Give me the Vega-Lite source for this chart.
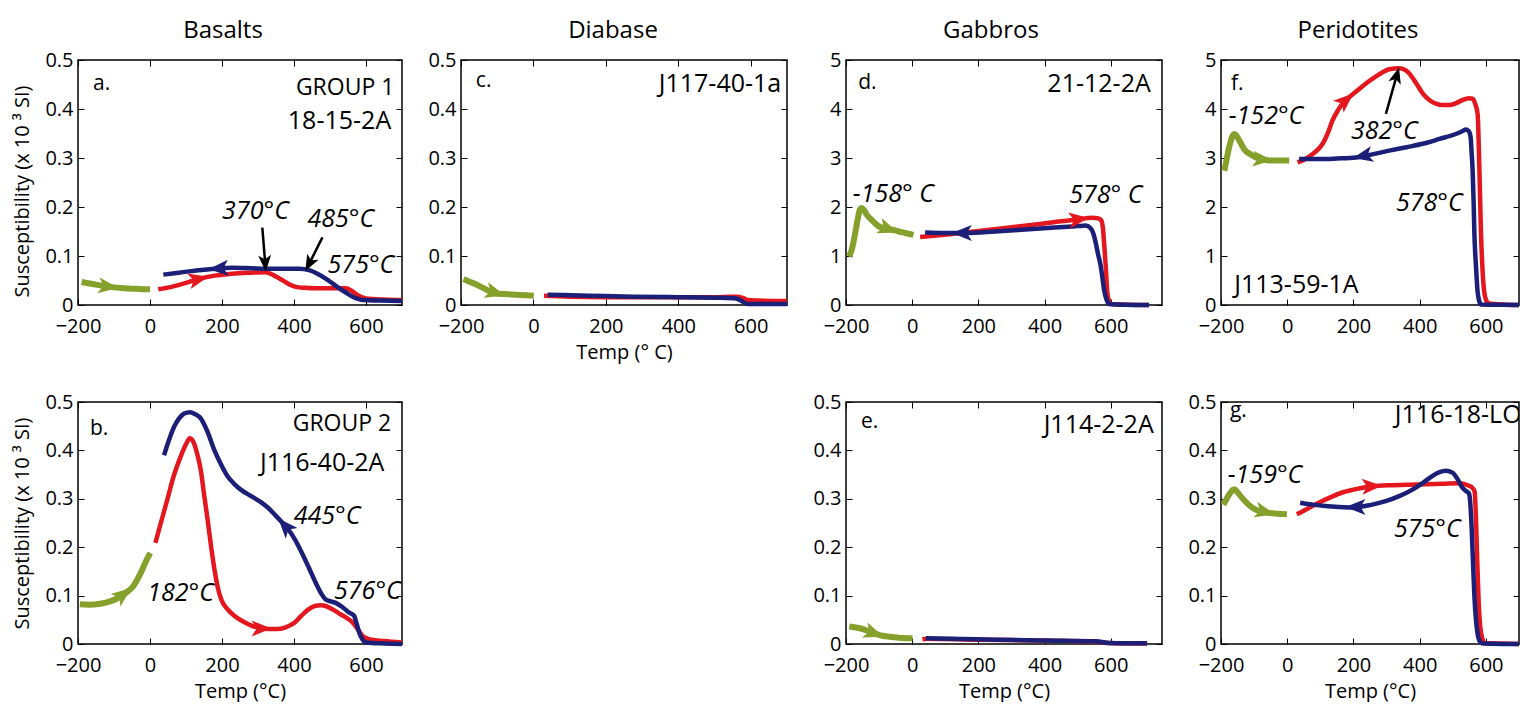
{
"$schema": "https://vega.github.io/schema/vega-lite/v6.json",
"padding": {"left": 12, "top": 18, "right": 0, "bottom": 0},
"config": {
 "view": {"stroke": "black", "strokeWidth": 1.5},
 "axis": {"domain": false, "grid": false, "tickSize": -6, "tickColor": "black", "tickWidth": 1, "labelColor": "black", "labelFont": "Open Sans", "labelFontSize": 20, "labelFlush": false, "labelOverlap": false, "titleFont": "Open Sans", "titleFontSize": 20, "titleFontWeight": "normal", "titleColor": "black"},
 "axisX": {"labelPadding": 17, "titlePadding": 6},
 "axisY": {"labelPadding": 11, "titlePadding": 12},
 "title": {"font": "Open Sans", "fontSize": 24, "fontWeight": "normal", "color": "black", "offset": 7, "baseline": "alphabetic", "frame": "group", "anchor": "middle"},
 "text": {"font": "Open Sans", "color": "black"}
},
"datasets": {"d": [
{"p":"a","g":"low","t":-190,"v":0.047},{"p":"a","g":"low","t":-160,"v":0.043},{"p":"a","g":"low","t":-130,"v":0.039},{"p":"a","g":"low","t":-100,"v":0.036},{"p":"a","g":"low","t":-70,"v":0.034},{"p":"a","g":"low","t":-40,"v":0.033},{"p":"a","g":"low","t":-10,"v":0.032},{"p":"a","g":"low","t":0,"v":0.032},
{"p":"a","g":"heat","t":23,"v":0.032},{"p":"a","g":"heat","t":60,"v":0.037},{"p":"a","g":"heat","t":100,"v":0.045},{"p":"a","g":"heat","t":135,"v":0.053},{"p":"a","g":"heat","t":180,"v":0.060},{"p":"a","g":"heat","t":228,"v":0.064},{"p":"a","g":"heat","t":280,"v":0.066},{"p":"a","g":"heat","t":320,"v":0.067},{"p":"a","g":"heat","t":345,"v":0.060},{"p":"a","g":"heat","t":367,"v":0.051},{"p":"a","g":"heat","t":385,"v":0.043},{"p":"a","g":"heat","t":405,"v":0.037},{"p":"a","g":"heat","t":430,"v":0.035},{"p":"a","g":"heat","t":460,"v":0.034},{"p":"a","g":"heat","t":500,"v":0.034},{"p":"a","g":"heat","t":544,"v":0.034},{"p":"a","g":"heat","t":560,"v":0.029},{"p":"a","g":"heat","t":577,"v":0.020},{"p":"a","g":"heat","t":600,"v":0.0135},{"p":"a","g":"heat","t":650,"v":0.011},{"p":"a","g":"heat","t":700,"v":0.010},
{"p":"a","g":"cool","t":37,"v":0.062},{"p":"a","g":"cool","t":80,"v":0.066},{"p":"a","g":"cool","t":135,"v":0.071},{"p":"a","g":"cool","t":180,"v":0.074},{"p":"a","g":"cool","t":228,"v":0.076},{"p":"a","g":"cool","t":280,"v":0.075},{"p":"a","g":"cool","t":321,"v":0.074},{"p":"a","g":"cool","t":370,"v":0.074},{"p":"a","g":"cool","t":414,"v":0.074},{"p":"a","g":"cool","t":442,"v":0.071},{"p":"a","g":"cool","t":465,"v":0.064},{"p":"a","g":"cool","t":488,"v":0.054},{"p":"a","g":"cool","t":507,"v":0.044},{"p":"a","g":"cool","t":526,"v":0.034},{"p":"a","g":"cool","t":545,"v":0.025},{"p":"a","g":"cool","t":563,"v":0.017},{"p":"a","g":"cool","t":580,"v":0.012},{"p":"a","g":"cool","t":591,"v":0.010},{"p":"a","g":"cool","t":640,"v":0.009},{"p":"a","g":"cool","t":700,"v":0.008},
{"p":"a","g":"tip","s":"low","t":-116,"v":0.0375,"h":8},{"p":"a","g":"tip","s":"heat","t":135,"v":0.053,"h":-13},{"p":"a","g":"tip","s":"cool","t":190,"v":0.0745,"h":176},
{"p":"a","g":"ann","t":312,"v":0.158,"t2":320,"v2":0.085},{"p":"a","g":"ann","t":479,"v":0.138,"t2":442,"v2":0.084},
{"p":"a","g":"head","t":320,"v":0.085,"h":86},{"p":"a","g":"head","t":442,"v":0.084,"h":118},
{"p":"a","g":"L","k":"letter","txt":"a.","t":-158,"v":0.451},{"p":"a","g":"R","k":"group","txt":"GROUP 1","t":679,"v":0.443},{"p":"a","g":"R","k":"id","txt":"18-15-2A","t":670,"v":0.376},
{"p":"a","g":"T","txt":"370°C","t":293,"v":0.191},{"p":"a","g":"T","txt":"485°C","t":530,"v":0.176},{"p":"a","g":"T","txt":"575°C","t":586,"v":0.081},

{"p":"b","g":"low","t":-195,"v":0.082},{"p":"b","g":"low","t":-170,"v":0.081},{"p":"b","g":"low","t":-139,"v":0.083},{"p":"b","g":"low","t":-115,"v":0.087},{"p":"b","g":"low","t":-92,"v":0.094},{"p":"b","g":"low","t":-70,"v":0.104},{"p":"b","g":"low","t":-46,"v":0.12},{"p":"b","g":"low","t":-25,"v":0.148},{"p":"b","g":"low","t":-8,"v":0.176},{"p":"b","g":"low","t":1,"v":0.188},
{"p":"b","g":"heat","t":15,"v":0.209},{"p":"b","g":"heat","t":30,"v":0.25},{"p":"b","g":"heat","t":48,"v":0.298},{"p":"b","g":"heat","t":65,"v":0.345},{"p":"b","g":"heat","t":85,"v":0.387},{"p":"b","g":"heat","t":100,"v":0.413},{"p":"b","g":"heat","t":111,"v":0.425},{"p":"b","g":"heat","t":122,"v":0.415},{"p":"b","g":"heat","t":132,"v":0.39},{"p":"b","g":"heat","t":141,"v":0.36},{"p":"b","g":"heat","t":150,"v":0.31},{"p":"b","g":"heat","t":160,"v":0.257},{"p":"b","g":"heat","t":170,"v":0.2},{"p":"b","g":"heat","t":179,"v":0.154},{"p":"b","g":"heat","t":188,"v":0.118},{"p":"b","g":"heat","t":198,"v":0.092},{"p":"b","g":"heat","t":215,"v":0.072},{"p":"b","g":"heat","t":235,"v":0.058},{"p":"b","g":"heat","t":260,"v":0.046},{"p":"b","g":"heat","t":282,"v":0.038},{"p":"b","g":"heat","t":305,"v":0.033},{"p":"b","g":"heat","t":328,"v":0.031},{"p":"b","g":"heat","t":352,"v":0.031},{"p":"b","g":"heat","t":375,"v":0.034},{"p":"b","g":"heat","t":390,"v":0.039},{"p":"b","g":"heat","t":403,"v":0.045},{"p":"b","g":"heat","t":420,"v":0.058},{"p":"b","g":"heat","t":441,"v":0.072},{"p":"b","g":"heat","t":460,"v":0.079},{"p":"b","g":"heat","t":474,"v":0.080},{"p":"b","g":"heat","t":490,"v":0.078},{"p":"b","g":"heat","t":506,"v":0.072},{"p":"b","g":"heat","t":530,"v":0.061},{"p":"b","g":"heat","t":548,"v":0.053},{"p":"b","g":"heat","t":562,"v":0.045},{"p":"b","g":"heat","t":575,"v":0.033},{"p":"b","g":"heat","t":590,"v":0.017},{"p":"b","g":"heat","t":609,"v":0.010},{"p":"b","g":"heat","t":650,"v":0.006},{"p":"b","g":"heat","t":700,"v":0.003},
{"p":"b","g":"cool","t":39,"v":0.39},{"p":"b","g":"cool","t":52,"v":0.42},{"p":"b","g":"cool","t":67,"v":0.449},{"p":"b","g":"cool","t":80,"v":0.465},{"p":"b","g":"cool","t":95,"v":0.476},{"p":"b","g":"cool","t":111,"v":0.479},{"p":"b","g":"cool","t":125,"v":0.475},{"p":"b","g":"cool","t":141,"v":0.466},{"p":"b","g":"cool","t":160,"v":0.438},{"p":"b","g":"cool","t":179,"v":0.40},{"p":"b","g":"cool","t":198,"v":0.37},{"p":"b","g":"cool","t":216,"v":0.346},{"p":"b","g":"cool","t":235,"v":0.33},{"p":"b","g":"cool","t":254,"v":0.318},{"p":"b","g":"cool","t":282,"v":0.305},{"p":"b","g":"cool","t":310,"v":0.292},{"p":"b","g":"cool","t":330,"v":0.28},{"p":"b","g":"cool","t":347,"v":0.267},{"p":"b","g":"cool","t":366,"v":0.252},{"p":"b","g":"cool","t":385,"v":0.236},{"p":"b","g":"cool","t":404,"v":0.214},{"p":"b","g":"cool","t":422,"v":0.188},{"p":"b","g":"cool","t":441,"v":0.158},{"p":"b","g":"cool","t":460,"v":0.127},{"p":"b","g":"cool","t":475,"v":0.105},{"p":"b","g":"cool","t":488,"v":0.092},{"p":"b","g":"cool","t":502,"v":0.088},{"p":"b","g":"cool","t":516,"v":0.085},{"p":"b","g":"cool","t":535,"v":0.076},{"p":"b","g":"cool","t":553,"v":0.065},{"p":"b","g":"cool","t":567,"v":0.058},{"p":"b","g":"cool","t":574,"v":0.042},{"p":"b","g":"cool","t":581,"v":0.024},{"p":"b","g":"cool","t":590,"v":0.01},{"p":"b","g":"cool","t":600,"v":0.003},{"p":"b","g":"cool","t":650,"v":0.001},{"p":"b","g":"cool","t":700,"v":0},
{"p":"b","g":"tip","s":"low","t":-74,"v":0.103,"h":-38},{"p":"b","g":"tip","s":"heat","t":310,"v":0.032,"h":0},{"p":"b","g":"tip","s":"cool","t":375,"v":0.244,"h":-132},
{"p":"b","g":"L","k":"letter","txt":"b.","t":-167,"v":0.445},{"p":"b","g":"R","k":"group","txt":"GROUP 2","t":670,"v":0.455},{"p":"b","g":"R","k":"id","txt":"J116-40-2A","t":651,"v":0.373},
{"p":"b","g":"T","txt":"445°C","t":492,"v":0.264},{"p":"b","g":"T","txt":"182°C","t":85,"v":0.106},{"p":"b","g":"T","txt":"576°C","t":604,"v":0.110},

{"p":"c","g":"low","t":-193,"v":0.053},{"p":"c","g":"low","t":-178,"v":0.048},{"p":"c","g":"low","t":-161,"v":0.043},{"p":"c","g":"low","t":-142,"v":0.036},{"p":"c","g":"low","t":-124,"v":0.029},{"p":"c","g":"low","t":-110,"v":0.025},{"p":"c","g":"low","t":-96,"v":0.023},{"p":"c","g":"low","t":-70,"v":0.022},{"p":"c","g":"low","t":-50,"v":0.021},{"p":"c","g":"low","t":-25,"v":0.02},{"p":"c","g":"low","t":1,"v":0.019},
{"p":"c","g":"heat","t":29,"v":0.019},{"p":"c","g":"heat","t":100,"v":0.017},{"p":"c","g":"heat","t":200,"v":0.016},{"p":"c","g":"heat","t":300,"v":0.016},{"p":"c","g":"heat","t":400,"v":0.016},{"p":"c","g":"heat","t":500,"v":0.016},{"p":"c","g":"heat","t":545,"v":0.017},{"p":"c","g":"heat","t":565,"v":0.017},{"p":"c","g":"heat","t":580,"v":0.014},{"p":"c","g":"heat","t":591,"v":0.01},{"p":"c","g":"heat","t":620,"v":0.009},{"p":"c","g":"heat","t":700,"v":0.008},
{"p":"c","g":"cool","t":39,"v":0.021},{"p":"c","g":"cool","t":150,"v":0.019},{"p":"c","g":"cool","t":275,"v":0.017},{"p":"c","g":"cool","t":400,"v":0.016},{"p":"c","g":"cool","t":500,"v":0.015},{"p":"c","g":"cool","t":554,"v":0.014},{"p":"c","g":"cool","t":565,"v":0.012},{"p":"c","g":"cool","t":575,"v":0.008},{"p":"c","g":"cool","t":591,"v":0.002},{"p":"c","g":"cool","t":620,"v":0.002},{"p":"c","g":"cool","t":700,"v":0.002},
{"p":"c","g":"tip","s":"low","t":-105,"v":0.025,"h":16},
{"p":"c","g":"L","k":"letter","txt":"c.","t":-159,"v":0.458},{"p":"c","g":"R","k":"id","txt":"J117-40-1a","t":684,"v":0.451},

{"p":"d","g":"low","t":-191,"v":0.99},{"p":"d","g":"low","t":-184,"v":1.1},{"p":"d","g":"low","t":-178,"v":1.26},{"p":"d","g":"low","t":-170,"v":1.55},{"p":"d","g":"low","t":-163,"v":1.81},{"p":"d","g":"low","t":-158,"v":1.95},{"p":"d","g":"low","t":-153,"v":1.98},{"p":"d","g":"low","t":-145,"v":1.93},{"p":"d","g":"low","t":-137,"v":1.84},{"p":"d","g":"low","t":-120,"v":1.72},{"p":"d","g":"low","t":-102,"v":1.61},{"p":"d","g":"low","t":-80,"v":1.56},{"p":"d","g":"low","t":-62,"v":1.54},{"p":"d","g":"low","t":-40,"v":1.5},{"p":"d","g":"low","t":-21,"v":1.47},{"p":"d","g":"low","t":4,"v":1.43},
{"p":"d","g":"heat","t":24,"v":1.39},{"p":"d","g":"heat","t":90,"v":1.43},{"p":"d","g":"heat","t":160,"v":1.48},{"p":"d","g":"heat","t":241,"v":1.54},{"p":"d","g":"heat","t":320,"v":1.60},{"p":"d","g":"heat","t":393,"v":1.66},{"p":"d","g":"heat","t":450,"v":1.71},{"p":"d","g":"heat","t":494,"v":1.74},{"p":"d","g":"heat","t":544,"v":1.78},{"p":"d","g":"heat","t":560,"v":1.77},{"p":"d","g":"heat","t":570,"v":1.74},{"p":"d","g":"heat","t":576,"v":1.6},{"p":"d","g":"heat","t":580,"v":1.26},{"p":"d","g":"heat","t":585,"v":0.79},{"p":"d","g":"heat","t":590,"v":0.24},{"p":"d","g":"heat","t":595,"v":0.08},{"p":"d","g":"heat","t":600,"v":0.02},{"p":"d","g":"heat","t":640,"v":0.01},{"p":"d","g":"heat","t":716,"v":0},
{"p":"d","g":"cool","t":39,"v":1.48},{"p":"d","g":"cool","t":100,"v":1.47},{"p":"d","g":"cool","t":161,"v":1.47},{"p":"d","g":"cool","t":250,"v":1.5},{"p":"d","g":"cool","t":342,"v":1.54},{"p":"d","g":"cool","t":430,"v":1.58},{"p":"d","g":"cool","t":500,"v":1.61},{"p":"d","g":"cool","t":524,"v":1.62},{"p":"d","g":"cool","t":539,"v":1.57},{"p":"d","g":"cool","t":548,"v":1.45},{"p":"d","g":"cool","t":555,"v":1.26},{"p":"d","g":"cool","t":562,"v":1.03},{"p":"d","g":"cool","t":570,"v":0.79},{"p":"d","g":"cool","t":575,"v":0.55},{"p":"d","g":"cool","t":580,"v":0.31},{"p":"d","g":"cool","t":588,"v":0.1},{"p":"d","g":"cool","t":595,"v":0.02},{"p":"d","g":"cool","t":640,"v":0.005},{"p":"d","g":"cool","t":716,"v":0},
{"p":"d","g":"tip","s":"low","t":-72,"v":1.55,"h":20},{"p":"d","g":"tip","s":"heat","t":504,"v":1.75,"h":-7},{"p":"d","g":"tip","s":"cool","t":150,"v":1.47,"h":180},
{"p":"d","g":"L","k":"letter","txt":"d.","t":-163,"v":4.54},{"p":"d","g":"R","k":"id","txt":"21-12-2A","t":721,"v":4.51},
{"p":"d","g":"T","txt":"-158° C","t":-57,"v":2.27},{"p":"d","g":"T","txt":"578° C","t":585,"v":2.25},

{"p":"e","g":"low","t":-190,"v":0.036},{"p":"e","g":"low","t":-170,"v":0.034},{"p":"e","g":"low","t":-150,"v":0.031},{"p":"e","g":"low","t":-130,"v":0.026},{"p":"e","g":"low","t":-110,"v":0.021},{"p":"e","g":"low","t":-90,"v":0.017},{"p":"e","g":"low","t":-69,"v":0.015},{"p":"e","g":"low","t":-40,"v":0.013},{"p":"e","g":"low","t":1,"v":0.012},
{"p":"e","g":"heat","t":31,"v":0.010},{"p":"e","g":"heat","t":45,"v":0.011},{"p":"e","g":"heat","t":200,"v":0.009},{"p":"e","g":"heat","t":400,"v":0.007},{"p":"e","g":"heat","t":554,"v":0.005},{"p":"e","g":"heat","t":594,"v":0.002},{"p":"e","g":"heat","t":710,"v":0.001},
{"p":"e","g":"cool","t":41,"v":0.012},{"p":"e","g":"cool","t":150,"v":0.0105},{"p":"e","g":"cool","t":252,"v":0.009},{"p":"e","g":"cool","t":400,"v":0.0072},{"p":"e","g":"cool","t":554,"v":0.0055},{"p":"e","g":"cool","t":575,"v":0.004},{"p":"e","g":"cool","t":594,"v":0.002},{"p":"e","g":"cool","t":650,"v":0.0015},{"p":"e","g":"cool","t":710,"v":0.0014},
{"p":"e","g":"tip","s":"low","t":-115,"v":0.022,"h":20},
{"p":"e","g":"L","k":"letter","txt":"e.","t":-155,"v":0.459},{"p":"e","g":"R","k":"id","txt":"J114-2-2A","t":730,"v":0.452},

{"p":"f","g":"low","t":-190,"v":2.74},{"p":"f","g":"low","t":-185,"v":2.9},{"p":"f","g":"low","t":-180,"v":3.08},{"p":"f","g":"low","t":-175,"v":3.23},{"p":"f","g":"low","t":-170,"v":3.36},{"p":"f","g":"low","t":-165,"v":3.45},{"p":"f","g":"low","t":-160,"v":3.49},{"p":"f","g":"low","t":-155,"v":3.47},{"p":"f","g":"low","t":-150,"v":3.42},{"p":"f","g":"low","t":-140,"v":3.3},{"p":"f","g":"low","t":-130,"v":3.18},{"p":"f","g":"low","t":-112,"v":3.08},{"p":"f","g":"low","t":-94,"v":3.01},{"p":"f","g":"low","t":-74,"v":2.97},{"p":"f","g":"low","t":-54,"v":2.95},{"p":"f","g":"low","t":-25,"v":2.95},{"p":"f","g":"low","t":6,"v":2.95},
{"p":"f","g":"heat","t":31,"v":2.91},{"p":"f","g":"heat","t":55,"v":2.98},{"p":"f","g":"heat","t":77,"v":3.08},{"p":"f","g":"heat","t":92,"v":3.17},{"p":"f","g":"heat","t":107,"v":3.29},{"p":"f","g":"heat","t":122,"v":3.5},{"p":"f","g":"heat","t":137,"v":3.77},{"p":"f","g":"heat","t":152,"v":3.96},{"p":"f","g":"heat","t":167,"v":4.11},{"p":"f","g":"heat","t":187,"v":4.24},{"p":"f","g":"heat","t":207,"v":4.35},{"p":"f","g":"heat","t":232,"v":4.49},{"p":"f","g":"heat","t":258,"v":4.62},{"p":"f","g":"heat","t":283,"v":4.73},{"p":"f","g":"heat","t":308,"v":4.81},{"p":"f","g":"heat","t":338,"v":4.83},{"p":"f","g":"heat","t":355,"v":4.8},{"p":"f","g":"heat","t":368,"v":4.73},{"p":"f","g":"heat","t":390,"v":4.52},{"p":"f","g":"heat","t":409,"v":4.32},{"p":"f","g":"heat","t":430,"v":4.18},{"p":"f","g":"heat","t":449,"v":4.11},{"p":"f","g":"heat","t":470,"v":4.08},{"p":"f","g":"heat","t":489,"v":4.08},{"p":"f","g":"heat","t":510,"v":4.12},{"p":"f","g":"heat","t":529,"v":4.18},{"p":"f","g":"heat","t":548,"v":4.22},{"p":"f","g":"heat","t":560,"v":4.21},{"p":"f","g":"heat","t":568,"v":4.1},{"p":"f","g":"heat","t":575,"v":3.9},{"p":"f","g":"heat","t":580,"v":2.88},{"p":"f","g":"heat","t":585,"v":1.51},{"p":"f","g":"heat","t":590,"v":0.7},{"p":"f","g":"heat","t":595,"v":0.27},{"p":"f","g":"heat","t":602,"v":0.08},{"p":"f","g":"heat","t":610,"v":0.03},{"p":"f","g":"heat","t":650,"v":0.01},{"p":"f","g":"heat","t":700,"v":0},
{"p":"f","g":"cool","t":36,"v":2.98},{"p":"f","g":"cool","t":70,"v":2.98},{"p":"f","g":"cool","t":107,"v":2.98},{"p":"f","g":"cool","t":150,"v":2.99},{"p":"f","g":"cool","t":207,"v":3.01},{"p":"f","g":"cool","t":260,"v":3.08},{"p":"f","g":"cool","t":308,"v":3.15},{"p":"f","g":"cool","t":360,"v":3.22},{"p":"f","g":"cool","t":409,"v":3.29},{"p":"f","g":"cool","t":460,"v":3.39},{"p":"f","g":"cool","t":509,"v":3.49},{"p":"f","g":"cool","t":530,"v":3.55},{"p":"f","g":"cool","t":539,"v":3.58},{"p":"f","g":"cool","t":548,"v":3.55},{"p":"f","g":"cool","t":554,"v":3.42},{"p":"f","g":"cool","t":557,"v":3.1},{"p":"f","g":"cool","t":560,"v":2.74},{"p":"f","g":"cool","t":563,"v":2.1},{"p":"f","g":"cool","t":565,"v":1.51},{"p":"f","g":"cool","t":570,"v":0.8},{"p":"f","g":"cool","t":575,"v":0.27},{"p":"f","g":"cool","t":580,"v":0.08},{"p":"f","g":"cool","t":585,"v":0.01},{"p":"f","g":"cool","t":640,"v":0.005},{"p":"f","g":"cool","t":700,"v":0},
{"p":"f","g":"tip","s":"low","t":-74,"v":2.97,"h":5},{"p":"f","g":"tip","s":"heat","t":177,"v":4.18,"h":-41},{"p":"f","g":"tip","s":"cool","t":228,"v":3.04,"h":168},
{"p":"f","g":"ann","t":298,"v":3.90,"t2":331,"v2":4.69},{"p":"f","g":"head","t":331,"v":4.69,"h":-74},
{"p":"f","g":"L","k":"letter","txt":"f.","t":-170,"v":4.51},{"p":"f","g":"L","k":"id","txt":"J113-59-1A","t":-160,"v":0.41},
{"p":"f","g":"T","txt":"-152°C","t":-64,"v":3.85},{"p":"f","g":"T","txt":"382°C","t":293,"v":3.56},{"p":"f","g":"T","txt":"578°C","t":429,"v":2.09},

{"p":"g","g":"low","t":-193,"v":0.288},{"p":"g","g":"low","t":-186,"v":0.296},{"p":"g","g":"low","t":-178,"v":0.306},{"p":"g","g":"low","t":-170,"v":0.314},{"p":"g","g":"low","t":-163,"v":0.319},{"p":"g","g":"low","t":-158,"v":0.319},{"p":"g","g":"low","t":-153,"v":0.316},{"p":"g","g":"low","t":-140,"v":0.305},{"p":"g","g":"low","t":-127,"v":0.295},{"p":"g","g":"low","t":-112,"v":0.285},{"p":"g","g":"low","t":-97,"v":0.278},{"p":"g","g":"low","t":-77,"v":0.274},{"p":"g","g":"low","t":-57,"v":0.271},{"p":"g","g":"low","t":-30,"v":0.269},{"p":"g","g":"low","t":-1,"v":0.268},
{"p":"g","g":"heat","t":29,"v":0.268},{"p":"g","g":"heat","t":60,"v":0.279},{"p":"g","g":"heat","t":95,"v":0.292},{"p":"g","g":"heat","t":130,"v":0.303},{"p":"g","g":"heat","t":166,"v":0.313},{"p":"g","g":"heat","t":200,"v":0.319},{"p":"g","g":"heat","t":236,"v":0.324},{"p":"g","g":"heat","t":275,"v":0.327},{"p":"g","g":"heat","t":317,"v":0.328},{"p":"g","g":"heat","t":370,"v":0.329},{"p":"g","g":"heat","t":418,"v":0.33},{"p":"g","g":"heat","t":470,"v":0.331},{"p":"g","g":"heat","t":519,"v":0.332},{"p":"g","g":"heat","t":545,"v":0.328},{"p":"g","g":"heat","t":560,"v":0.322},{"p":"g","g":"heat","t":566,"v":0.315},{"p":"g","g":"heat","t":570,"v":0.26},{"p":"g","g":"heat","t":574,"v":0.17},{"p":"g","g":"heat","t":578,"v":0.09},{"p":"g","g":"heat","t":583,"v":0.035},{"p":"g","g":"heat","t":590,"v":0.01},{"p":"g","g":"heat","t":597,"v":0.002},{"p":"g","g":"heat","t":650,"v":0.001},{"p":"g","g":"heat","t":700,"v":0},
{"p":"g","g":"cool","t":39,"v":0.292},{"p":"g","g":"cool","t":77,"v":0.288},{"p":"g","g":"cool","t":115,"v":0.285},{"p":"g","g":"cool","t":156,"v":0.283},{"p":"g","g":"cool","t":196,"v":0.282},{"p":"g","g":"cool","t":250,"v":0.287},{"p":"g","g":"cool","t":297,"v":0.295},{"p":"g","g":"cool","t":340,"v":0.306},{"p":"g","g":"cool","t":378,"v":0.319},{"p":"g","g":"cool","t":410,"v":0.333},{"p":"g","g":"cool","t":438,"v":0.347},{"p":"g","g":"cool","t":460,"v":0.355},{"p":"g","g":"cool","t":479,"v":0.358},{"p":"g","g":"cool","t":499,"v":0.354},{"p":"g","g":"cool","t":515,"v":0.34},{"p":"g","g":"cool","t":529,"v":0.323},{"p":"g","g":"cool","t":540,"v":0.316},{"p":"g","g":"cool","t":549,"v":0.311},{"p":"g","g":"cool","t":553,"v":0.29},{"p":"g","g":"cool","t":557,"v":0.24},{"p":"g","g":"cool","t":561,"v":0.17},{"p":"g","g":"cool","t":565,"v":0.103},{"p":"g","g":"cool","t":570,"v":0.05},{"p":"g","g":"cool","t":575,"v":0.021},{"p":"g","g":"cool","t":582,"v":0.005},{"p":"g","g":"cool","t":590,"v":0.001},{"p":"g","g":"cool","t":650,"v":0},{"p":"g","g":"cool","t":700,"v":0},
{"p":"g","g":"tip","s":"low","t":-67,"v":0.273,"h":14},{"p":"g","g":"tip","s":"heat","t":256,"v":0.326,"h":-3},{"p":"g","g":"tip","s":"cool","t":206,"v":0.283,"h":180},
{"p":"g","g":"L","k":"letter","txt":"g.","t":-173,"v":0.481},{"p":"g","g":"L","k":"id","txt":"J116-18-LO","t":325,"v":0.474},
{"p":"g","g":"T","txt":"-159°C","t":-67,"v":0.349},{"p":"g","g":"T","txt":"575°C","t":423,"v":0.237}
]},
"columns": 4,
"spacing": {"row": 97, "column": 59},
"bounds": "flush",
"resolve": {"scale": {"x": "independent", "y": "independent"}},
"concat": [
  {"width": 324, "height": 245, "data": {"name": "d"},
   "title": {"text": "Basalts", "dx": -17},
   "transform": [{"filter": "datum.p == 'a'"}],
   "encoding": {"x": {"field": "t", "type": "quantitative", "scale": {"domain": [-200, 700], "nice": false, "zero": false}, "axis": null},
                "y": {"field": "v", "type": "quantitative", "scale": {"domain": [0, 0.5], "nice": false, "zero": false}, "axis": null}},
   "layer": [
    {"transform": [{"filter": "datum.g == 'low'"}], "mark": {"type": "line", "color": "#86a12b", "strokeWidth": 6, "interpolate": "monotone"},
     "encoding": {"x": {"field": "t", "type": "quantitative", "scale": {"domain": [-200, 700], "nice": false, "zero": false}, "axis": {"orient": "bottom", "values": [-200, 0, 200, 400, 600], "title": null}},
                  "y": {"field": "v", "type": "quantitative", "scale": {"domain": [0, 0.5], "nice": false, "zero": false}, "axis": {"orient": "left", "values": [0, 0.1, 0.2, 0.3, 0.4, 0.5], "format": "~g", "title": "Susceptibility (x 10 ³ SI)", "titleY": 131}}}},
    {"transform": [{"filter": "datum.g == 'heat'"}], "mark": {"type": "line", "color": "#e4161e", "strokeWidth": 4.5, "interpolate": "monotone"}, "encoding": {}},
    {"transform": [{"filter": "datum.g == 'cool'"}], "mark": {"type": "line", "color": "#1b1f78", "strokeWidth": 4.5, "interpolate": "monotone"},
     "encoding": {"x": {"field": "t", "type": "quantitative", "scale": {"domain": [-200, 700], "nice": false, "zero": false}, "axis": {"orient": "top", "values": [-200, 0, 200, 400, 600], "labels": false, "title": null}},
                  "y": {"field": "v", "type": "quantitative", "scale": {"domain": [0, 0.5], "nice": false, "zero": false}, "axis": {"orient": "right", "values": [0, 0.1, 0.2, 0.3, 0.4, 0.5], "labels": false, "title": null}}}},
    {"transform": [{"filter": "datum.g == 'tip'"}], "mark": {"type": "point", "shape": "M1,0L-1,-0.8L-0.5,0L-1,0.8Z", "filled": true, "opacity": 1, "size": 400, "strokeWidth": 0},
     "encoding": {"color": {"field": "s", "type": "nominal", "scale": {"domain": ["low", "heat", "cool"], "range": ["#86a12b", "#e4161e", "#1b1f78"]}, "legend": null}, "angle": {"field": "h", "type": "quantitative", "scale": null}}},
    {"transform": [{"filter": "datum.g == 'ann'"}], "mark": {"type": "rule", "color": "black", "strokeWidth": 2.5},
     "encoding": {"x2": {"field": "t2"}, "y2": {"field": "v2"}}},
    {"transform": [{"filter": "datum.g == 'head'"}], "mark": {"type": "point", "shape": "M1,0L-1,-0.8L-0.5,0L-1,0.8Z", "filled": true, "opacity": 1, "size": 260, "color": "black", "strokeWidth": 0},
     "encoding": {"angle": {"field": "h", "type": "quantitative", "scale": null}}},
    {"transform": [{"filter": "datum.g == 'L'"}], "mark": {"type": "text", "align": "left", "baseline": "middle"},
     "encoding": {"text": {"field": "txt"}, "size": {"field": "k", "type": "ordinal", "scale": {"domain": ["letter", "group", "id"], "range": [21, 25, 21]}, "legend": null}}},
    {"transform": [{"filter": "datum.g == 'R'"}], "mark": {"type": "text", "align": "right", "baseline": "middle"},
     "encoding": {"text": {"field": "txt"}, "size": {"field": "k", "type": "ordinal", "scale": {"domain": ["letter", "group", "id"], "range": [21, 25, 21]}, "legend": null}}},
    {"transform": [{"filter": "datum.g == 'T'"}], "mark": {"type": "text", "align": "center", "baseline": "middle", "fontStyle": "italic", "fontSize": 25},
     "encoding": {"text": {"field": "txt"}}}
   ],
   "resolve": {"axis": {"x": "independent", "y": "independent"}}
  },
  {"width": 326, "height": 245, "data": {"name": "d"},
   "title": {"text": "Diabase", "dx": -11},
   "transform": [{"filter": "datum.p == 'c'"}],
   "encoding": {"x": {"field": "t", "type": "quantitative", "scale": {"domain": [-200, 700], "nice": false, "zero": false}, "axis": null},
                "y": {"field": "v", "type": "quantitative", "scale": {"domain": [0, 0.5], "nice": false, "zero": false}, "axis": null}},
   "layer": [
    {"transform": [{"filter": "datum.g == 'low'"}], "mark": {"type": "line", "color": "#86a12b", "strokeWidth": 6, "interpolate": "monotone"},
     "encoding": {"x": {"field": "t", "type": "quantitative", "scale": {"domain": [-200, 700], "nice": false, "zero": false}, "axis": {"orient": "bottom", "values": [-200, 0, 200, 400, 600], "title": "Temp (° C)"}},
                  "y": {"field": "v", "type": "quantitative", "scale": {"domain": [0, 0.5], "nice": false, "zero": false}, "axis": {"orient": "left", "values": [0, 0.1, 0.2, 0.3, 0.4, 0.5], "format": "~g", "title": null}}}},
    {"transform": [{"filter": "datum.g == 'heat'"}], "mark": {"type": "line", "color": "#e4161e", "strokeWidth": 4.5, "interpolate": "monotone"}, "encoding": {}},
    {"transform": [{"filter": "datum.g == 'cool'"}], "mark": {"type": "line", "color": "#1b1f78", "strokeWidth": 4.5, "interpolate": "monotone"},
     "encoding": {"x": {"field": "t", "type": "quantitative", "scale": {"domain": [-200, 700], "nice": false, "zero": false}, "axis": {"orient": "top", "values": [-200, 0, 200, 400, 600], "labels": false, "title": null}},
                  "y": {"field": "v", "type": "quantitative", "scale": {"domain": [0, 0.5], "nice": false, "zero": false}, "axis": {"orient": "right", "values": [0, 0.1, 0.2, 0.3, 0.4, 0.5], "labels": false, "title": null}}}},
    {"transform": [{"filter": "datum.g == 'tip'"}], "mark": {"type": "point", "shape": "M1,0L-1,-0.8L-0.5,0L-1,0.8Z", "filled": true, "opacity": 1, "size": 400, "strokeWidth": 0},
     "encoding": {"color": {"field": "s", "type": "nominal", "scale": {"domain": ["low", "heat", "cool"], "range": ["#86a12b", "#e4161e", "#1b1f78"]}, "legend": null}, "angle": {"field": "h", "type": "quantitative", "scale": null}}},
    {"transform": [{"filter": "datum.g == 'L'"}], "mark": {"type": "text", "align": "left", "baseline": "middle"},
     "encoding": {"text": {"field": "txt"}, "size": {"field": "k", "type": "ordinal", "scale": {"domain": ["letter", "group", "id"], "range": [21, 25, 21]}, "legend": null}}},
    {"transform": [{"filter": "datum.g == 'R'"}], "mark": {"type": "text", "align": "right", "baseline": "middle"},
     "encoding": {"text": {"field": "txt"}, "size": {"field": "k", "type": "ordinal", "scale": {"domain": ["letter", "group", "id"], "range": [21, 25, 21]}, "legend": null}}}
   ],
   "resolve": {"axis": {"x": "independent", "y": "independent"}}
  },
  {"width": 316, "height": 245, "data": {"name": "d"},
   "title": {"text": "Gabbros", "dx": -13},
   "transform": [{"filter": "datum.p == 'd'"}],
   "encoding": {"x": {"field": "t", "type": "quantitative", "scale": {"domain": [-200, 755], "nice": false, "zero": false}, "axis": null},
                "y": {"field": "v", "type": "quantitative", "scale": {"domain": [0, 5], "nice": false, "zero": false}, "axis": null}},
   "layer": [
    {"transform": [{"filter": "datum.g == 'low'"}], "mark": {"type": "line", "color": "#86a12b", "strokeWidth": 6, "interpolate": "monotone"},
     "encoding": {"x": {"field": "t", "type": "quantitative", "scale": {"domain": [-200, 755], "nice": false, "zero": false}, "axis": {"orient": "bottom", "values": [-200, 0, 200, 400, 600], "title": null}},
                  "y": {"field": "v", "type": "quantitative", "scale": {"domain": [0, 5], "nice": false, "zero": false}, "axis": {"orient": "left", "values": [0, 1, 2, 3, 4, 5], "format": "d", "title": null}}}},
    {"transform": [{"filter": "datum.g == 'heat'"}], "mark": {"type": "line", "color": "#e4161e", "strokeWidth": 4.5, "interpolate": "monotone"}, "encoding": {}},
    {"transform": [{"filter": "datum.g == 'cool'"}], "mark": {"type": "line", "color": "#1b1f78", "strokeWidth": 4.5, "interpolate": "monotone"},
     "encoding": {"x": {"field": "t", "type": "quantitative", "scale": {"domain": [-200, 755], "nice": false, "zero": false}, "axis": {"orient": "top", "values": [-200, 0, 200, 400, 600], "labels": false, "title": null}},
                  "y": {"field": "v", "type": "quantitative", "scale": {"domain": [0, 5], "nice": false, "zero": false}, "axis": {"orient": "right", "values": [0, 1, 2, 3, 4, 5], "labels": false, "title": null}}}},
    {"transform": [{"filter": "datum.g == 'tip'"}], "mark": {"type": "point", "shape": "M1,0L-1,-0.8L-0.5,0L-1,0.8Z", "filled": true, "opacity": 1, "size": 400, "strokeWidth": 0},
     "encoding": {"color": {"field": "s", "type": "nominal", "scale": {"domain": ["low", "heat", "cool"], "range": ["#86a12b", "#e4161e", "#1b1f78"]}, "legend": null}, "angle": {"field": "h", "type": "quantitative", "scale": null}}},
    {"transform": [{"filter": "datum.g == 'L'"}], "mark": {"type": "text", "align": "left", "baseline": "middle"},
     "encoding": {"text": {"field": "txt"}, "size": {"field": "k", "type": "ordinal", "scale": {"domain": ["letter", "group", "id"], "range": [21, 25, 21]}, "legend": null}}},
    {"transform": [{"filter": "datum.g == 'R'"}], "mark": {"type": "text", "align": "right", "baseline": "middle"},
     "encoding": {"text": {"field": "txt"}, "size": {"field": "k", "type": "ordinal", "scale": {"domain": ["letter", "group", "id"], "range": [21, 25, 21]}, "legend": null}}},
    {"transform": [{"filter": "datum.g == 'T'"}], "mark": {"type": "text", "align": "center", "baseline": "middle", "fontStyle": "italic", "fontSize": 25},
     "encoding": {"text": {"field": "txt"}}}
   ],
   "resolve": {"axis": {"x": "independent", "y": "independent"}}
  },
  {"width": 298, "height": 245, "data": {"name": "d"},
   "title": {"text": "Peridotites", "dx": -12},
   "transform": [{"filter": "datum.p == 'f'"}],
   "encoding": {"x": {"field": "t", "type": "quantitative", "scale": {"domain": [-200, 700], "nice": false, "zero": false}, "axis": null},
                "y": {"field": "v", "type": "quantitative", "scale": {"domain": [0, 5], "nice": false, "zero": false}, "axis": null}},
   "layer": [
    {"transform": [{"filter": "datum.g == 'low'"}], "mark": {"type": "line", "color": "#86a12b", "strokeWidth": 6, "interpolate": "monotone"},
     "encoding": {"x": {"field": "t", "type": "quantitative", "scale": {"domain": [-200, 700], "nice": false, "zero": false}, "axis": {"orient": "bottom", "values": [-200, 0, 200, 400, 600], "title": null}},
                  "y": {"field": "v", "type": "quantitative", "scale": {"domain": [0, 5], "nice": false, "zero": false}, "axis": {"orient": "left", "values": [0, 1, 2, 3, 4, 5], "format": "d", "title": null}}}},
    {"transform": [{"filter": "datum.g == 'heat'"}], "mark": {"type": "line", "color": "#e4161e", "strokeWidth": 4.5, "interpolate": "monotone"}, "encoding": {}},
    {"transform": [{"filter": "datum.g == 'cool'"}], "mark": {"type": "line", "color": "#1b1f78", "strokeWidth": 4.5, "interpolate": "monotone"},
     "encoding": {"x": {"field": "t", "type": "quantitative", "scale": {"domain": [-200, 700], "nice": false, "zero": false}, "axis": {"orient": "top", "values": [-200, 0, 200, 400, 600], "labels": false, "title": null}},
                  "y": {"field": "v", "type": "quantitative", "scale": {"domain": [0, 5], "nice": false, "zero": false}, "axis": {"orient": "right", "values": [0, 1, 2, 3, 4, 5], "labels": false, "title": null}}}},
    {"transform": [{"filter": "datum.g == 'tip'"}], "mark": {"type": "point", "shape": "M1,0L-1,-0.8L-0.5,0L-1,0.8Z", "filled": true, "opacity": 1, "size": 400, "strokeWidth": 0},
     "encoding": {"color": {"field": "s", "type": "nominal", "scale": {"domain": ["low", "heat", "cool"], "range": ["#86a12b", "#e4161e", "#1b1f78"]}, "legend": null}, "angle": {"field": "h", "type": "quantitative", "scale": null}}},
    {"transform": [{"filter": "datum.g == 'ann'"}], "mark": {"type": "rule", "color": "black", "strokeWidth": 2.5},
     "encoding": {"x2": {"field": "t2"}, "y2": {"field": "v2"}}},
    {"transform": [{"filter": "datum.g == 'head'"}], "mark": {"type": "point", "shape": "M1,0L-1,-0.8L-0.5,0L-1,0.8Z", "filled": true, "opacity": 1, "size": 260, "color": "black", "strokeWidth": 0},
     "encoding": {"angle": {"field": "h", "type": "quantitative", "scale": null}}},
    {"transform": [{"filter": "datum.g == 'L'"}], "mark": {"type": "text", "align": "left", "baseline": "middle"},
     "encoding": {"text": {"field": "txt"}, "size": {"field": "k", "type": "ordinal", "scale": {"domain": ["letter", "group", "id"], "range": [21, 25, 21]}, "legend": null}}},
    {"transform": [{"filter": "datum.g == 'T'"}], "mark": {"type": "text", "align": "center", "baseline": "middle", "fontStyle": "italic", "fontSize": 25},
     "encoding": {"text": {"field": "txt"}}}
   ],
   "resolve": {"axis": {"x": "independent", "y": "independent"}}
  },
  {"width": 324, "height": 242, "data": {"name": "d"},
   "transform": [{"filter": "datum.p == 'b'"}],
   "encoding": {"x": {"field": "t", "type": "quantitative", "scale": {"domain": [-200, 700], "nice": false, "zero": false}, "axis": null},
                "y": {"field": "v", "type": "quantitative", "scale": {"domain": [0, 0.5], "nice": false, "zero": false}, "axis": null}},
   "layer": [
    {"transform": [{"filter": "datum.g == 'low'"}], "mark": {"type": "line", "color": "#86a12b", "strokeWidth": 6, "interpolate": "monotone"},
     "encoding": {"x": {"field": "t", "type": "quantitative", "scale": {"domain": [-200, 700], "nice": false, "zero": false}, "axis": {"orient": "bottom", "values": [-200, 0, 200, 400, 600], "title": "Temp (°C)"}},
                  "y": {"field": "v", "type": "quantitative", "scale": {"domain": [0, 0.5], "nice": false, "zero": false}, "axis": {"orient": "left", "values": [0, 0.1, 0.2, 0.3, 0.4, 0.5], "format": "~g", "title": "Susceptibility (x 10 ³ SI)"}}}},
    {"transform": [{"filter": "datum.g == 'heat'"}], "mark": {"type": "line", "color": "#e4161e", "strokeWidth": 4.5, "interpolate": "monotone"}, "encoding": {}},
    {"transform": [{"filter": "datum.g == 'cool'"}], "mark": {"type": "line", "color": "#1b1f78", "strokeWidth": 4.5, "interpolate": "monotone"},
     "encoding": {"x": {"field": "t", "type": "quantitative", "scale": {"domain": [-200, 700], "nice": false, "zero": false}, "axis": {"orient": "top", "values": [-200, 0, 200, 400, 600], "labels": false, "title": null}},
                  "y": {"field": "v", "type": "quantitative", "scale": {"domain": [0, 0.5], "nice": false, "zero": false}, "axis": {"orient": "right", "values": [0, 0.1, 0.2, 0.3, 0.4, 0.5], "labels": false, "title": null}}}},
    {"transform": [{"filter": "datum.g == 'tip'"}], "mark": {"type": "point", "shape": "M1,0L-1,-0.8L-0.5,0L-1,0.8Z", "filled": true, "opacity": 1, "size": 400, "strokeWidth": 0},
     "encoding": {"color": {"field": "s", "type": "nominal", "scale": {"domain": ["low", "heat", "cool"], "range": ["#86a12b", "#e4161e", "#1b1f78"]}, "legend": null}, "angle": {"field": "h", "type": "quantitative", "scale": null}}},
    {"transform": [{"filter": "datum.g == 'L'"}], "mark": {"type": "text", "align": "left", "baseline": "middle"},
     "encoding": {"text": {"field": "txt"}, "size": {"field": "k", "type": "ordinal", "scale": {"domain": ["letter", "group", "id"], "range": [21, 25, 21]}, "legend": null}}},
    {"transform": [{"filter": "datum.g == 'R'"}], "mark": {"type": "text", "align": "right", "baseline": "middle"},
     "encoding": {"text": {"field": "txt"}, "size": {"field": "k", "type": "ordinal", "scale": {"domain": ["letter", "group", "id"], "range": [21, 25, 21]}, "legend": null}}},
    {"transform": [{"filter": "datum.g == 'T'"}], "mark": {"type": "text", "align": "center", "baseline": "middle", "fontStyle": "italic", "fontSize": 25},
     "encoding": {"text": {"field": "txt"}}}
   ],
   "resolve": {"axis": {"x": "independent", "y": "independent"}}
  },
  {"width": 326, "height": 242, "data": {"values": [{"blank": 1}]},
   "mark": {"type": "point", "opacity": 0},
   "view": {"stroke": null}
  },
  {"width": 316, "height": 242, "data": {"name": "d"},
   "transform": [{"filter": "datum.p == 'e'"}],
   "encoding": {"x": {"field": "t", "type": "quantitative", "scale": {"domain": [-200, 755], "nice": false, "zero": false}, "axis": null},
                "y": {"field": "v", "type": "quantitative", "scale": {"domain": [0, 0.5], "nice": false, "zero": false}, "axis": null}},
   "layer": [
    {"transform": [{"filter": "datum.g == 'low'"}], "mark": {"type": "line", "color": "#86a12b", "strokeWidth": 6, "interpolate": "monotone"},
     "encoding": {"x": {"field": "t", "type": "quantitative", "scale": {"domain": [-200, 755], "nice": false, "zero": false}, "axis": {"orient": "bottom", "values": [-200, 0, 200, 400, 600], "title": "Temp (°C)"}},
                  "y": {"field": "v", "type": "quantitative", "scale": {"domain": [0, 0.5], "nice": false, "zero": false}, "axis": {"orient": "left", "values": [0, 0.1, 0.2, 0.3, 0.4, 0.5], "format": "~g", "title": null}}}},
    {"transform": [{"filter": "datum.g == 'heat'"}], "mark": {"type": "line", "color": "#e4161e", "strokeWidth": 4.5, "interpolate": "monotone"}, "encoding": {}},
    {"transform": [{"filter": "datum.g == 'cool'"}], "mark": {"type": "line", "color": "#1b1f78", "strokeWidth": 4.5, "interpolate": "monotone"},
     "encoding": {"x": {"field": "t", "type": "quantitative", "scale": {"domain": [-200, 755], "nice": false, "zero": false}, "axis": {"orient": "top", "values": [-200, 0, 200, 400, 600], "labels": false, "title": null}},
                  "y": {"field": "v", "type": "quantitative", "scale": {"domain": [0, 0.5], "nice": false, "zero": false}, "axis": {"orient": "right", "values": [0, 0.1, 0.2, 0.3, 0.4, 0.5], "labels": false, "title": null}}}},
    {"transform": [{"filter": "datum.g == 'tip'"}], "mark": {"type": "point", "shape": "M1,0L-1,-0.8L-0.5,0L-1,0.8Z", "filled": true, "opacity": 1, "size": 400, "strokeWidth": 0},
     "encoding": {"color": {"field": "s", "type": "nominal", "scale": {"domain": ["low", "heat", "cool"], "range": ["#86a12b", "#e4161e", "#1b1f78"]}, "legend": null}, "angle": {"field": "h", "type": "quantitative", "scale": null}}},
    {"transform": [{"filter": "datum.g == 'L'"}], "mark": {"type": "text", "align": "left", "baseline": "middle"},
     "encoding": {"text": {"field": "txt"}, "size": {"field": "k", "type": "ordinal", "scale": {"domain": ["letter", "group", "id"], "range": [21, 25, 21]}, "legend": null}}},
    {"transform": [{"filter": "datum.g == 'R'"}], "mark": {"type": "text", "align": "right", "baseline": "middle"},
     "encoding": {"text": {"field": "txt"}, "size": {"field": "k", "type": "ordinal", "scale": {"domain": ["letter", "group", "id"], "range": [21, 25, 21]}, "legend": null}}}
   ],
   "resolve": {"axis": {"x": "independent", "y": "independent"}}
  },
  {"width": 298, "height": 242, "data": {"name": "d"},
   "transform": [{"filter": "datum.p == 'g'"}],
   "encoding": {"x": {"field": "t", "type": "quantitative", "scale": {"domain": [-200, 700], "nice": false, "zero": false}, "axis": null},
                "y": {"field": "v", "type": "quantitative", "scale": {"domain": [0, 0.5], "nice": false, "zero": false}, "axis": null}},
   "layer": [
    {"transform": [{"filter": "datum.g == 'low'"}], "mark": {"type": "line", "color": "#86a12b", "strokeWidth": 6, "interpolate": "monotone"},
     "encoding": {"x": {"field": "t", "type": "quantitative", "scale": {"domain": [-200, 700], "nice": false, "zero": false}, "axis": {"orient": "bottom", "values": [-200, 0, 200, 400, 600], "title": "Temp (°C)"}},
                  "y": {"field": "v", "type": "quantitative", "scale": {"domain": [0, 0.5], "nice": false, "zero": false}, "axis": {"orient": "left", "values": [0, 0.1, 0.2, 0.3, 0.4, 0.5], "format": "~g", "title": null}}}},
    {"transform": [{"filter": "datum.g == 'heat'"}], "mark": {"type": "line", "color": "#e4161e", "strokeWidth": 4.5, "interpolate": "monotone"}, "encoding": {}},
    {"transform": [{"filter": "datum.g == 'cool'"}], "mark": {"type": "line", "color": "#1b1f78", "strokeWidth": 4.5, "interpolate": "monotone"},
     "encoding": {"x": {"field": "t", "type": "quantitative", "scale": {"domain": [-200, 700], "nice": false, "zero": false}, "axis": {"orient": "top", "values": [-200, 0, 200, 400, 600], "labels": false, "title": null}},
                  "y": {"field": "v", "type": "quantitative", "scale": {"domain": [0, 0.5], "nice": false, "zero": false}, "axis": {"orient": "right", "values": [0, 0.1, 0.2, 0.3, 0.4, 0.5], "labels": false, "title": null}}}},
    {"transform": [{"filter": "datum.g == 'tip'"}], "mark": {"type": "point", "shape": "M1,0L-1,-0.8L-0.5,0L-1,0.8Z", "filled": true, "opacity": 1, "size": 400, "strokeWidth": 0},
     "encoding": {"color": {"field": "s", "type": "nominal", "scale": {"domain": ["low", "heat", "cool"], "range": ["#86a12b", "#e4161e", "#1b1f78"]}, "legend": null}, "angle": {"field": "h", "type": "quantitative", "scale": null}}},
    {"transform": [{"filter": "datum.g == 'L'"}], "mark": {"type": "text", "align": "left", "baseline": "middle", "clip": true},
     "encoding": {"text": {"field": "txt"}, "size": {"field": "k", "type": "ordinal", "scale": {"domain": ["letter", "group", "id"], "range": [21, 25, 21]}, "legend": null}}},
    {"transform": [{"filter": "datum.g == 'T'"}], "mark": {"type": "text", "align": "center", "baseline": "middle", "fontStyle": "italic", "fontSize": 25},
     "encoding": {"text": {"field": "txt"}}}
   ],
   "resolve": {"axis": {"x": "independent", "y": "independent"}}
  }
]
}
